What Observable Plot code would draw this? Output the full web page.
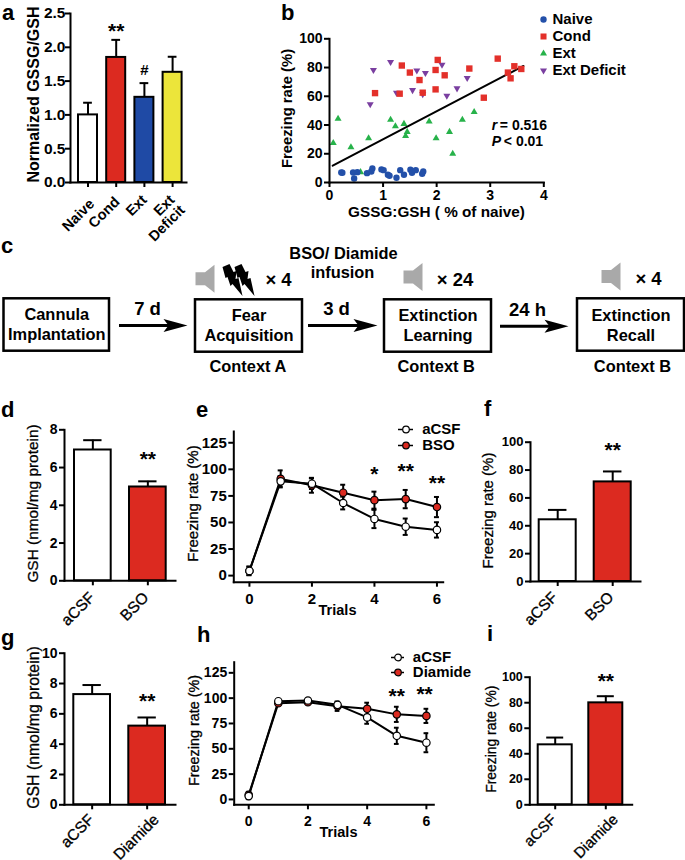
<!DOCTYPE html>
<html>
<head>
<meta charset="utf-8">
<script src="https://cdn.jsdelivr.net/npm/d3@7"></script>
<script src="https://cdn.jsdelivr.net/npm/@observablehq/plot@0.6"></script>
<style>
  html, body { margin: 0; padding: 0; background: #fff; }
  #root { position: relative; width: 685px; height: 860px; overflow: hidden; font-family: "Liberation Sans", Arial, sans-serif; }
  #root svg { position: absolute; background: transparent; max-width: none; overflow: visible; }
  .letter { position: absolute; font-size: 22px; line-height: 24px; font-weight: 700; color: #000; }
</style>
</head>
<body>
<div id="root"></div>
<script>
// ---------- data ----------
const RED = "#dc2a20", BLUE = "#1f4aa5", YELLOW = "#ece53a", WHITE = "#ffffff";
const GREEN = "#27b24a", PURPLE = "#7a3fa0", SCAT_BLUE = "#2350a9", SCAT_RED = "#e3302a";

const catsA = ["Naive", "Cond", "Ext", "Ext\nDeficit"];
const valsA = [1.0, 1.85, 1.26, 1.63];
const errsA = [0.18, 0.26, 0.21, 0.23];
const fillsA = [WHITE, RED, BLUE, YELLOW];

const naiveX = [.22,.24,.44,.52,.46,.70,.78,.80,.97,1.01,1.09,1.12,1.25,1.32,1.39,1.51,1.54,1.61,1.73,1.75];
const naiveY = [7,6.8,7,7.2,2.8,6.5,7.7,9.8,9.1,8.6,5.4,4.7,3.3,8.6,5.4,8.9,6.8,8.6,6.1,7.7];
const condX = [.85,1.31,1.35,1.50,1.68,1.74,1.98,1.98,2.02,2.15,2.61,2.88,3.14,3.33,3.38,3.45,3.58];
const condY = [62.2,61.8,81.4,76.5,71.3,62.5,64.8,78.3,85.3,74.6,79.3,59,86.2,76.5,72.5,80.9,79];
const extX = [.07,.16,.40,.58,.73,1.14,1.23,1.39,1.42,1.45,1.86,1.99,2.24,2.30,2.48,2.70];
const extY = [27.5,44.3,24.5,7.2,30.8,43.6,39.2,40.8,32.4,35.2,42.4,30.8,35.2,20,43.6,49];
const defX = [.76,.82,1.14,1.25,1.55,1.63,1.74,1.79,2.10,2.19,2.38,2.57];
const defY = [54.5,78.3,83.9,62.5,64.3,77.9,61.5,76.2,82,60.4,65.5,72.7];
const fitX = [0.06, 3.62];
const fitY = [11.7, 81.1];
const scatterNames = ["Naive", "Cond", "Ext", "Ext Deficit"];

const catsD = ["aCSF", "BSO"];      const valsD = [6.93, 4.97]; const errsD = [0.52, 0.30];
const catsF = ["aCSF", "BSO"];      const valsF = [44.3, 71.5]; const errsF = [7.1, 7.5];
const catsG = ["aCSF", "Diamide"];  const valsG = [7.27, 5.19]; const errsG = [0.63, 0.57];
const catsI = ["aCSF", "Diamide"];  const valsI = [47, 79.9];   const errsI = [5.7, 5.2];

const trials = [0, 1, 2, 3, 4, 5, 6];
const eCsf = [4.4, 88.7, 86.5, 68.3, 53.3, 46, 43];
const eCsfErr = [4, 5, 5, 6, 8.6, 7.7, 7.2];
const eBso = [4.5, 91, 85, 78, 71, 72, 64.5];
const eBsoErr = [4, 8, 7, 7.5, 8, 8.6, 9.5];
const hCsf = [3.3, 97, 97.7, 93.4, 81, 62.8, 56];
const hCsfErr = [3, 1, 1, 3, 6.3, 8, 9.4];
const hDia = [4.5, 95, 96, 92, 89.5, 84, 82.5];
const hDiaErr = [3, 1.5, 2, 4.6, 6, 7.5, 7];

// ---------- helpers ----------
const root = document.getElementById("root");
const FONT = '"Liberation Sans", Arial, sans-serif';
const MEDIUM = { stroke: "#000", strokeWidth: 0.3 };
function mount(svg, left, top) { svg.style.left = left + "px"; svg.style.top = top + "px"; root.appendChild(svg); }
function letter(t, left, baseline) {
  const d = document.createElement("div"); d.className = "letter"; d.textContent = t;
  d.style.left = left + "px"; d.style.top = (baseline - 20) + "px"; root.appendChild(d);
}
function base(box, frame, tickSize, tickWeight) {
  return {
    width: box.r - box.l, height: box.b - box.t,
    marginLeft: frame.l - box.l, marginRight: box.r - frame.r,
    marginTop: frame.t - box.t, marginBottom: box.b - frame.b,
    style: { fontFamily: FONT, fontSize: tickSize + "px", fontWeight: tickWeight, color: "#000", background: "transparent", overflow: "visible" }
  };
}
function axisCommon() {
  return [
    Plot.frame({ anchor: "left", stroke: "#000", strokeWidth: 2 }),
    Plot.frame({ anchor: "bottom", stroke: "#000", strokeWidth: 2 })
  ];
}
function yLabel(text, frame, x, y, size, weight) {
  return Plot.text([text], { text: d => d, frameAnchor: "left", textAnchor: "middle", rotate: -90,
    dx: x - frame.l, dy: y - (frame.t + frame.b) / 2, fontSize: size, fontWeight: weight, fill: "#000",
    ...(weight < 700 ? MEDIUM : {}) });
}
function barPanel(o) {
  const f = o.frame, rows = o.cats.map((c, i) => ({ c, v: o.vals[i], e: o.errs[i], fill: o.fills[i] }));
  const R = f.r - f.l, n = o.cats.length, pi = 1 - o.barW / o.step;
  const slack = R - o.step * (n - pi), capInset = o.barW * o.capInset;
  const xWeight = o.xWeight || 700;
  const svg = Plot.plot({
    ...base(o.box, f, o.tickSize, o.tickWeight || 700),
    x: { type: "band", domain: o.cats, paddingInner: pi, paddingOuter: slack / 2 / o.step, align: (o.barStart - f.l) / slack, round: false, label: null },
    y: { domain: [0, o.yMax], label: null },
    color: { type: "identity" },
    marks: [
      Plot.ruleX(rows, { x: "c", y1: "v", y2: d => d.v + d.e, strokeWidth: 2 }),
      Plot.tickY(rows, { x: "c", y: d => d.v + d.e, insetLeft: capInset, insetRight: capInset, strokeWidth: 2 }),
      Plot.barY(rows, { x: "c", y: "v", fill: "fill", stroke: "#000", strokeWidth: 2 }),
      ...axisCommon(),
      Plot.axisY({ ticks: o.ticks, tickSize: 5, tickPadding: o.yPad ?? 2, strokeWidth: 2, label: null, tickFormat: o.tickFormat }),
      Plot.axisX({ tickSize: 5, text: null, strokeWidth: 2, label: null }),
      ...o.cats.map((c, i) => Plot.text([c], {
        x: d => d, text: d => d, frameAnchor: "bottom", rotate: -45, textAnchor: "end", lineAnchor: "top",
        dx: o.xOff[i][0], dy: o.xOff[i][1], fontSize: o.xSize, fontWeight: xWeight, fill: "#000",
        ...(xWeight < 700 ? MEDIUM : {})
      })),
      yLabel(o.label, f, o.labelX, o.labelY, o.labelSize, o.labelWeight),
      ...o.sig.map(s => Plot.text([s], { x: () => o.cats[s.i], y: () => s.y, text: () => s.t, fontSize: s.size || 21, fontWeight: 700, dy: s.t === "#" ? 0 : 2.5, fill: "#000" }))
    ]
  });
  mount(svg, o.box.l, o.box.t);
}
function linePanel(o) {
  const f = o.frame;
  const toRows = (v, e) => trials.map((t, i) => ({ t, v: v[i], e: e[i] }));
  const A = toRows(o.csf, o.csfErr), B = toRows(o.drug, o.drugErr);
  const errMarks = rows => [
    Plot.ruleX(rows, { x: "t", y1: d => d.v - d.e, y2: d => d.v + d.e, strokeWidth: 2 }),
    Plot.ruleY(rows, { y: d => d.v + d.e, x1: d => d.t - 0.08, x2: d => d.t + 0.08, strokeWidth: 2 }),
    Plot.ruleY(rows, { y: d => d.v - d.e, x1: d => d.t - 0.08, x2: d => d.t + 0.08, strokeWidth: 2 })
  ];
  const svg = Plot.plot({
    ...base(o.box, f, o.tickSize, 700),
    x: { domain: o.xDomain, label: null },
    y: { domain: o.yDomain, label: null },
    marks: [
      ...errMarks(A), ...errMarks(B),
      Plot.line(B, { x: "t", y: "v", stroke: "#000", strokeWidth: 2 }),
      Plot.line(A, { x: "t", y: "v", stroke: "#000", strokeWidth: 2 }),
      Plot.dot(B, { x: "t", y: "v", r: 3.7, fill: RED, stroke: "#000", strokeWidth: 1.2 }),
      Plot.dot(A, { x: "t", y: "v", r: 3.7, fill: "#fff", stroke: "#000", strokeWidth: 1.2 }),
      ...axisCommon(),
      Plot.axisY({ ticks: [0, 25, 50, 75, 100, 125], tickSize: 5, tickPadding: 2, strokeWidth: 2, label: null }),
      Plot.axisX({ ticks: [0, 2, 4, 6], tickSize: 5, tickPadding: 6, strokeWidth: 2, label: null, tickFormat: d => d }),
      yLabel("Freezing rate (%)", f, o.labelX, o.labelY, o.labelSize, 400),
      Plot.text(["Trials"], { text: d => d, frameAnchor: "bottom", dx: o.trialsX - (f.l + f.r) / 2, dy: o.trialsY + 4 - f.b, fontSize: 14.5, fontWeight: 700, fill: "#000" }),
      ...o.sig.map(s => Plot.text([s], { x: () => s.x, y: () => s.y, text: () => s.t, fontSize: 21, fontWeight: 700, dy: 2.5, fill: "#000" }))
    ]
  });
  mount(svg, o.box.l, o.box.t);
}
function legend(names, marksFor, left, top, w, rowH, fontSize) {
  const svg = Plot.plot({
    width: w, height: rowH * names.length, margin: 0,
    x: { domain: [0, w], range: [0, w], axis: null },
    y: { type: "point", domain: names, padding: 0, range: [rowH / 2, rowH * names.length - rowH / 2], axis: null },
    style: { fontFamily: FONT, fontSize: fontSize + "px", fontWeight: 700, background: "transparent", overflow: "visible" },
    marks: marksFor(names)
  });
  mount(svg, left, top);
}
const triangleDown = { draw(c, s) {
  const y = Math.sqrt(s / (Math.sqrt(3) * 3));
  c.moveTo(0, y * 2); c.lineTo(-Math.sqrt(3) * y, -y); c.lineTo(Math.sqrt(3) * y, -y); c.closePath();
} };

// ---------- a ----------
barPanel({
  box: { l: 0, r: 215, t: 0, b: 240 }, frame: { l: 70, r: 186, t: 13, b: 182 },
  cats: catsA, vals: valsA, errs: errsA, fills: fillsA, yMax: 2.5, ticks: [0, .5, 1, 1.5, 2, 2.5], tickFormat: d3.format(".1f"),
  barStart: 78, barW: 19, step: 28.2, capInset: 0.27, tickSize: 15.5, xSize: 14.5, yPad: 0,
  xOff: [[0, 15], [-3, 13], [-4, 11], [-4.4, 11]],
  label: "Normalized GSSG/GSH", labelX: 33, labelY: 94, labelSize: 16, labelWeight: 700,
  sig: [{ i: 1, y: 2.28, t: "**" }, { i: 2, y: 1.66, t: "#", size: 15 }]
});
letter("a", 2, 20.5);

// ---------- b ----------
{
  const frame = { l: 329, r: 543.3, t: 38.3, b: 182 }, box = { l: 270, r: 600, t: 25, b: 230 };
  const rows = (xs, ys) => xs.map((x, i) => ({ x, y: ys[i] }));
  const svg = Plot.plot({
    ...base(box, frame, 14, 700),
    x: { domain: [0, 4], label: null }, y: { domain: [0, 100], label: null },
    marks: [
      Plot.line(fitX.map((x, i) => ({ x, y: fitY[i] })), { x: "x", y: "y", stroke: "#000", strokeWidth: 2 }),
      Plot.dot(rows(defX, defY), { x: "x", y: "y", symbol: triangleDown, r: 2.6, fill: PURPLE }),
      Plot.dot(rows(extX, extY), { x: "x", y: "y", symbol: "triangle", r: 2.6, fill: GREEN }),
      Plot.dot(rows(condX, condY), { x: "x", y: "y", symbol: "square", r: 3.6, fill: SCAT_RED }),
      Plot.dot(rows(naiveX, naiveY), { x: "x", y: "y", symbol: "circle", r: 3.2, fill: SCAT_BLUE }),
      ...axisCommon(),
      Plot.axisY({ ticks: [0, 20, 40, 60, 80, 100], tickSize: 5, tickPadding: 2, strokeWidth: 2, label: null }),
      Plot.axisX({ ticks: [0, 1, 2, 3, 4], tickSize: 5, tickPadding: 3, strokeWidth: 2, label: null, tickFormat: d => d }),
      yLabel("Freezing rate (%)", frame, 287, 108, 14.8, 700),
      Plot.text(["GSSG:GSH ( % of naive)"], { text: d => d, frameAnchor: "bottom", dx: 436 - 436.15, dy: 216 - frame.b, fontSize: 15.3, fontWeight: 700, fill: "#000" }),
      Plot.text(["r"], { text: d => d, x: () => 3.03, y: () => 40, textAnchor: "start", fontSize: 14, fontWeight: 700, fontStyle: "italic", fill: "#000" }),
      Plot.text(["= 0.516"], { text: d => d, x: () => 3.03, y: () => 40, dx: 8, textAnchor: "start", fontSize: 14, fontWeight: 700, fill: "#000" }),
      Plot.text(["P"], { text: d => d, x: () => 3.03, y: () => 28.8, textAnchor: "start", fontSize: 14, fontWeight: 700, fontStyle: "italic", fill: "#000" }),
      Plot.text(["< 0.01"], { text: d => d, x: () => 3.03, y: () => 28.8, dx: 12, textAnchor: "start", fontSize: 14, fontWeight: 700, fill: "#000" })
    ]
  });
  mount(svg, box.l, box.t);
  const syms = ["circle", "square", "triangle", triangleDown], cols = [SCAT_BLUE, SCAT_RED, GREEN, PURPLE], sizes = [3.2, 3.4, 2.6, 2.6];
  legend(scatterNames, names => [
    ...names.map((n, i) => Plot.dot([n], { x: () => 7, y: d => d, symbol: syms[i], r: sizes[i], fill: cols[i] })),
    Plot.text(names, { x: () => 16, y: d => d, text: d => d, textAnchor: "start", fontSize: 15, fontWeight: 700, fill: "#000" })
  ], 536, 9.5, 149, 17.3, 15);
}
letter("b", 281, 20.5);

// ---------- c : protocol schematic ----------
const stepLines = [["Cannula", "Implantation"], ["Fear", "Acquisition"], ["Extinction", "Learning"], ["Extinction", "Recall"]];
const stepContexts = ["", "Context A", "Context B", "Context B"];
const stepGaps = ["7 d", "3 d", "24 h"];
const stepRepeats = ["× 4", "× 24", "× 4"];
const infusion = ["BSO/ Diamide", "infusion"];
{
  const poly = pts => ({ draw(c, s) { const k = Math.sqrt(s / Math.PI) / 10; pts.forEach(([x, y], i) => i ? c.lineTo(x * k, y * k) : c.moveTo(x * k, y * k)); c.closePath(); } });
  const speaker = poly([[-9.5, -6.5], [0, -6.5], [9.5, -14], [9.5, 14], [0, 6.5], [-9.5, 6.5]]);
  const head = poly([[12, 0], [-12, -6.5], [-7, 0], [-12, 6.5]]);
  const bolt = poly([[-9, -13], [-2, -16], [2, -8], [5, -9], [4, -1], [7, -2], [11, 16], [1, 4], [-1, 6], [-4, -3], [-6, -2]]);
  const boxX = [[3.5, 109], [195, 302], [384, 491], [577, 684]];
  const boxY = [[298.3, 350.7], [299.3, 351.7], [299.3, 351.7], [298.3, 350.7]];
  const lineY = [[314, 334], [315.7, 335.7], [315.7, 335.7], [315.7, 335]];
  const ctxX = [0, 247.4, 435.7, 632], arrowX = [[119, 170], [308, 360], [500, 552]], headX = [175, 365, 556];
  const arrowY = [325, 325, 325.7], gapX = [147, 336, 527], gapY = [309, 309, 310];
  const spkX = [204.5, 412.5, 610.5], spkY = [278.3, 276.5, 276], repX = [278, 454.5, 648], repY = [279.3, 279.3, 278.3];
  const T = { fontSize: 16.4, fontWeight: 700, fill: "#000" };
  const svg = Plot.plot({
    width: 685, height: 150, margin: 0,
    x: { domain: [0, 685], range: [0, 685], axis: null },
    y: { domain: [235, 385], range: [0, 150], axis: null },
    style: { fontFamily: FONT, fontWeight: 700, background: "transparent", overflow: "visible" },
    marks: [
      Plot.rect(boxX, { x1: d => d[0], x2: d => d[1], y1: (d, i) => boxY[i][0], y2: (d, i) => boxY[i][1], fill: "#fff", stroke: "#000", strokeWidth: 2.5 }),
      ...stepLines.flatMap((ls, i) => ls.map((l, j) => Plot.text([l], { text: d => d, x: () => (boxX[i][0] + boxX[i][1]) / 2, y: () => lineY[i][j], ...T }))),
      ...stepContexts.map((c, i) => Plot.text([c], { text: d => d, x: () => ctxX[i], y: () => 366.7, ...T })),
      ...arrowX.map((a, i) => Plot.ruleY([arrowY[i]], { x1: () => a[0], x2: () => a[1], y: d => d, strokeWidth: 3 })),
      Plot.dot(headX, { x: d => d, y: (d, i) => arrowY[i], symbol: head, r: 10, fill: "#000" }),
      Plot.text(stepGaps, { text: d => d, x: (d, i) => gapX[i], y: (d, i) => gapY[i], fontSize: 18.5, fontWeight: 700, fill: "#000" }),
      Plot.dot(spkX, { x: d => d, y: (d, i) => spkY[i], symbol: speaker, r: 10, fill: "#a9a9a9" }),
      Plot.dot([231, 243], { x: d => d, y: () => 279.5, symbol: bolt, r: 10, fill: "#000" }),
      Plot.text(stepRepeats, { text: d => d, x: (d, i) => repX[i], y: (d, i) => repY[i], fontSize: 18.5, fontWeight: 700, fill: "#000" }),
      Plot.text([infusion[0]], { text: d => d, x: () => 343, y: () => 253.3, ...T }),
      Plot.text([infusion[1]], { text: d => d, x: () => 342, y: () => 272.7, ...T })
    ]
  });
  mount(svg, 0, 235);
}
letter("c", 1, 254);

// ---------- d ----------
barPanel({
  box: { l: 0, r: 180, t: 420, b: 635 }, frame: { l: 64, r: 175, t: 429.3, b: 580.3 },
  cats: catsD, vals: valsD, errs: errsD, fills: [WHITE, RED], yMax: 8, ticks: [0, 2, 4, 6, 8],
  barStart: 74, barW: 36.7, step: 55, capInset: 0.25, tickSize: 14, tickWeight: 700, xSize: 15.5, xWeight: 400,
  xOff: [[-5, 10], [-6, 10]],
  label: "GSH (nmol/mg protein)", labelX: 33, labelY: 503, labelSize: 15.4, labelWeight: 400,
  sig: [{ i: 1, y: 6.57, t: "**" }]
});
letter("d", 1, 418);

// ---------- e ----------
linePanel({
  box: { l: 180, r: 465, t: 425, b: 620 }, frame: { l: 233.3, r: 442.7, t: 431, b: 581.7 },
  xDomain: [-0.5, 6.2], yDomain: [-6.2, 135.6], tickSize: 15,
  csf: eCsf, csfErr: eCsfErr, drug: eBso, drugErr: eBsoErr,
  labelX: 193, labelY: 503, labelSize: 15.1, trialsX: 337, trialsY: 610,
  sig: [{ x: 4, y: 98, t: "*" }, { x: 5, y: 101, t: "**" }, { x: 6, y: 89, t: "**" }]
});
legend(["aCSF", "BSO"], names => [
  Plot.ruleY(names, { y: d => d, x1: () => 0, x2: () => 15, stroke: "#000", strokeWidth: 1.5 }),
  Plot.dot(names, { x: () => 7.5, y: d => d, r: 3.3, fill: d => d === "BSO" ? RED : "#fff", stroke: "#000", strokeWidth: 1.2 }),
  Plot.text(names, { x: () => 23.7, y: d => d, text: d => d, textAnchor: "start", fontSize: 15, fontWeight: 700, fill: "#000" })
], 398, 419.5, 90, 16.6, 15);
letter("e", 196, 418);

// ---------- f ----------
barPanel({
  box: { l: 475, r: 660, t: 430, b: 635 }, frame: { l: 530, r: 640, t: 441.7, b: 581 },
  cats: catsF, vals: valsF, errs: errsF, fills: [WHITE, RED], yMax: 100, ticks: [0, 20, 40, 60, 80, 100],
  barStart: 538.7, barW: 37, step: 55, capInset: 0.25, tickSize: 13, xSize: 15.5, xWeight: 400,
  xOff: [[-7, 9], [-6, 9]],
  label: "Freezing rate (%)", labelX: 488, labelY: 510, labelSize: 15, labelWeight: 400,
  sig: [{ i: 1, y: 96, t: "**" }]
});
letter("f", 484, 417);

// ---------- g ----------
barPanel({
  box: { l: 0, r: 180, t: 640, b: 860 }, frame: { l: 64, r: 175, t: 652.7, b: 804.3 },
  cats: catsG, vals: valsG, errs: errsG, fills: [WHITE, RED], yMax: 10, ticks: [0, 2, 4, 6, 8, 10],
  barStart: 73.3, barW: 36.7, step: 55, capInset: 0.25, tickSize: 14, xSize: 15.5, xWeight: 400,
  xOff: [[-5, 8], [5, 8]],
  label: "GSH (nmol/mg protein)", labelX: 33, labelY: 727, labelSize: 15.8, labelWeight: 400,
  sig: [{ i: 1, y: 7.0, t: "**" }]
});
letter("g", 1, 646);

// ---------- h ----------
linePanel({
  box: { l: 180, r: 465, t: 655, b: 845 }, frame: { l: 233.7, r: 433.3, t: 661.7, b: 804.3 },
  xDomain: [-0.49, 6.25], yDomain: [-5.3, 135.5], tickSize: 14,
  csf: hCsf, csfErr: hCsfErr, drug: hDia, drugErr: hDiaErr,
  labelX: 194, labelY: 730, labelSize: 14.4, trialsX: 338, trialsY: 832,
  sig: [{ x: 5, y: 104, t: "**" }, { x: 5.94, y: 106, t: "**" }]
});
legend(["aCSF", "Diamide"], names => [
  Plot.ruleY(names, { y: d => d, x1: () => 0, x2: () => 13, stroke: "#000", strokeWidth: 1.5 }),
  Plot.dot(names, { x: () => 6.5, y: d => d, r: 3.3, fill: d => d === "Diamide" ? RED : "#fff", stroke: "#000", strokeWidth: 1.2 }),
  Plot.text(names, { x: () => 21.3, y: d => d, text: d => d, textAnchor: "start", fontSize: 15, fontWeight: 700, fill: "#000" })
], 391, 649.2, 95, 15.7, 15);
letter("h", 197, 643);

// ---------- i ----------
barPanel({
  box: { l: 475, r: 660, t: 665, b: 860 }, frame: { l: 529.3, r: 631.7, t: 676.7, b: 804.3 },
  cats: catsI, vals: valsI, errs: errsI, fills: [WHITE, RED], yMax: 100, ticks: [0, 20, 40, 60, 80, 100],
  barStart: 537.7, barW: 34, step: 50.6, capInset: 0.25, tickSize: 12.5, xSize: 15, xWeight: 400,
  xOff: [[-5.5, 8], [5.5, 8]],
  label: "Freezing rate (%)", labelX: 491, labelY: 738.7, labelSize: 13.9, labelWeight: 400,
  sig: [{ i: 1, y: 99, t: "**" }]
});
letter("i", 487, 642);
</script>
</body>
</html>
